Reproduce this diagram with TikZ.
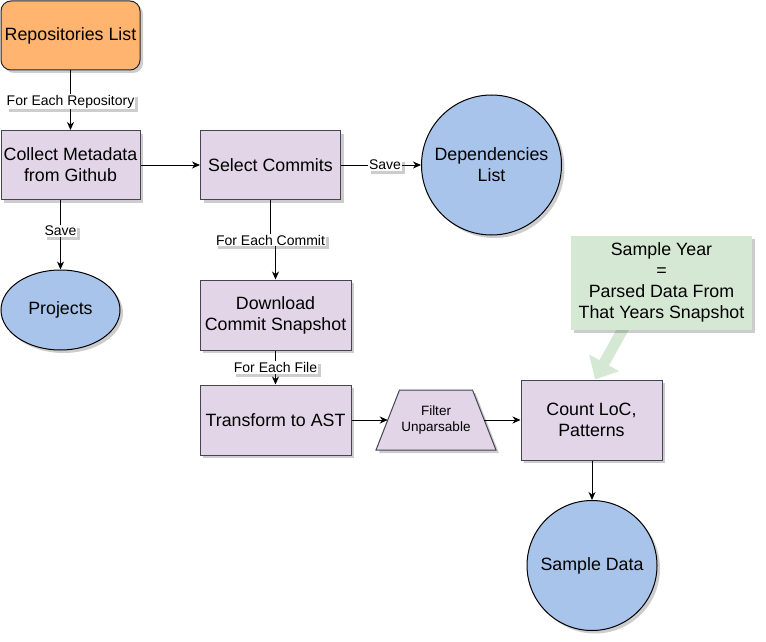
\documentclass[tikz,border=0pt]{standalone}
\usepackage{fontspec}
\setmainfont{Liberation Sans}
\usetikzlibrary{shapes.geometric,shadows,arrows.meta,calc,backgrounds}
\definecolor{orangefill}{HTML}{FFB570}
\definecolor{purplefill}{HTML}{E1D5E7}
\definecolor{purpleline}{HTML}{45454F}
\definecolor{bluefill}{HTML}{A9C4EB}
\definecolor{greenfill}{HTML}{D5E8D4}
\begin{document}
\begin{tikzpicture}[x=1pt,y=-1pt,
  font=\fontsize{17.8}{21}\selectfont,
  shad/.style={drop shadow={shadow xshift=3pt,shadow yshift=-3pt,opacity=0.28,fill=black!70}},
  proc/.style={rectangle,draw=purpleline,fill=purplefill,line width=1pt,align=center,inner sep=2pt,shad},
  store/.style={draw=black,fill=bluefill,line width=1pt,align=center,inner sep=0pt,shad},
  elabel/.style={fill=white,inner sep=1pt,font=\fontsize{14}{16}\selectfont,shad},
  conn/.style={draw=black,line width=1pt,-{Stealth[length=8pt,width=7pt,inset=2.5pt]}},
  fatarrow/.style={draw=greenfill,line width=11pt,-{Triangle[length=19pt,width=33pt]}}
]
\useasboundingbox (0,0) rectangle (766,642);

\node[proc,rounded corners=10pt,fill=orangefill,draw=black!85,minimum width=139pt,minimum height=69pt] (repo) at (70.5,35.5) {Repositories List};
\node[proc,minimum width=139pt,minimum height=69pt] (cm) at (70.5,165) {Collect Metadata\\from Github};
\node[proc,minimum width=140pt,minimum height=69pt] (sc) at (270.5,165) {Select Commits};
\node[store,circle,minimum size=140pt] (dep) at (491.5,165) {Dependencies\\List};
\node[store,ellipse,minimum width=119pt,minimum height=80pt] (proj) at (60.5,310) {Projects};
\node[proc,minimum width=151pt,minimum height=70pt] (dl) at (275.5,315) {Download\\Commit Snapshot};
\node[proc,minimum width=151pt,minimum height=70pt] (ast) at (275.5,420) {Transform to AST};
\node[align=center,inner sep=0pt,font=\fontsize{13.5}{16}\selectfont] (flt) at (436,420) {Filter\\Unparsable};
\coordinate (fltL) at ($(flt.center)+(-48.25,0)$);
\coordinate (fltR) at ($(flt.center)+(48.25,0)$);
\node[proc,minimum width=141pt,minimum height=80pt] (cl) at (591.5,420) {Count LoC,\\Patterns};
\node[store,circle,minimum size=130pt] (sd) at (592,565.5) {Sample Data};
\node[fill=greenfill,minimum width=181pt,minimum height=94pt,align=center,shad] (note) at (661.5,282.5)
  {Sample Year\\=\\Parsed Data From\\That Years Snapshot};

\begin{scope}[on background layer]
\draw[fatarrow] ($(note.south west)!0.304!(note.south east)+(0,-6)$) -- ([xshift=3.5pt]cl.north);
\draw[draw=purpleline,fill=purplefill,line width=1pt,shad]
  ($(flt.center)+(-60,30)$) -- ++(23.5,-60) -- ++(73,0) -- ++(23.5,60) -- cycle;
\end{scope}

\draw[conn] (repo) -- node[elabel,pos=0.52]{For Each Repository} (cm);
\draw[conn] (cm.east) -- (sc.west);
\draw[conn] (proj.north |- cm.south) -- node[elabel,pos=0.44]{Save} (proj.north);
\draw[conn] (sc.east) -- node[elabel,pos=0.55]{Save} (dep.west);
\draw[conn] (sc.south) -- ++(0,40) node[elabel]{For Each Commit} -| (dl.north);
\draw[conn] (dl) -- node[elabel]{For Each File} (ast);
\draw[conn] (ast.east) -- (fltL);
\draw[conn] (fltR) -- (cl.west);
\draw[conn] (cl.south -| sd.north) -- (sd.north);
\end{tikzpicture}
\end{document}
